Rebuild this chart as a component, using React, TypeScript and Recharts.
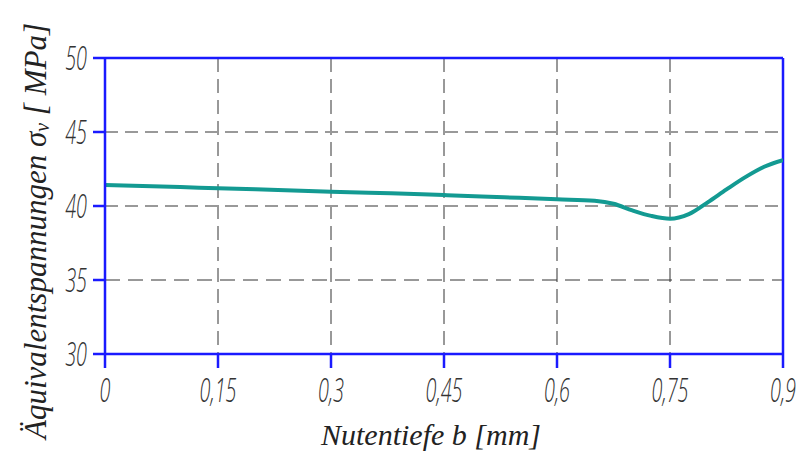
import React from "react";
import { LineChart, Line, XAxis, YAxis, CartesianGrid, ReferenceLine } from "recharts";

const depthMm = [0, 0.05, 0.1, 0.15, 0.2, 0.25, 0.3, 0.35, 0.4, 0.45, 0.5, 0.55, 0.6, 0.65, 0.675, 0.7, 0.725, 0.75, 0.775, 0.8, 0.825, 0.85, 0.875, 0.9];
const stressMPa = [41.42, 41.35, 41.28, 41.2, 41.13, 41.05, 40.97, 40.9, 40.82, 40.74, 40.65, 40.55, 40.45, 40.35, 40.15, 39.7, 39.33, 39.14, 39.45, 40.25, 41.12, 41.95, 42.65, 43.1];
const xTicks = [0, 0.15, 0.3, 0.45, 0.6, 0.75, 0.9];
const yTicks = [30, 35, 40, 45, 50];
const grayGridY = [40, 45];
const darkGridY = [35];

const data = depthMm.map((x, i) => ({ x, y: stressMPa[i] }));

const BLUE = "#1a1aff";
const SERIF = "Liberation Serif, Times New Roman, Tinos, DejaVu Serif, serif";

const fmt = (v: number) => String(v).replace(".", ",");

const NarrowTick = (props: any) => {
  const { x, y, payload, textAnchor, vertical } = props;
  return (
    <g transform={`translate(${x},${y})`}>
      <text
        transform="scale(0.6,1)"
        textAnchor={textAnchor}
        dy={vertical ? "0.36em" : "0.71em"}
        fontFamily="Open Sans, DejaVu Sans, sans-serif"
        fontStyle="italic"
        fontWeight={300}
        fontSize={33}
        fill="#333"
      >
        {fmt(payload.value)}
      </text>
    </g>
  );
};

const XTick = (props: any) => <NarrowTick {...props} vertical={false} />;
const YTick = (props: any) => <NarrowTick {...props} vertical={true} />;

const YTitle = () => (
  <text
    x={35}
    y={231}
    transform="rotate(-90 35 231)"
    textAnchor="middle"
    dominantBaseline="central"
    fontFamily={SERIF}
    fontStyle="italic"
    fontSize={31}
    fill="#222"
  >
    Äquivalentspannungen σ<tspan fontSize={20} dy={7}>v</tspan>
    <tspan dy={-7}> [ MPa]</tspan>
  </text>
);

export default function App() {
  return (
    <div style={{ position: "absolute", left: 0, top: 0, width: 803, height: 453, background: "#fff" }}>
      <LineChart width={803} height={453} data={data} margin={{ top: 58, right: 20, left: 0, bottom: 0 }}>
        <CartesianGrid horizontal={false} vertical={true} stroke="#333" strokeDasharray="14 7" strokeWidth={1} />
        {grayGridY.map((v) => (
          <ReferenceLine key={`g${v}`} y={v} stroke="#999" strokeDasharray="13 7" strokeWidth={2} />
        ))}
        {darkGridY.map((v) => (
          <ReferenceLine key={`d${v}`} y={v} stroke="#333" strokeDasharray="15 8" strokeWidth={1} />
        ))}
        <XAxis
          type="number"
          dataKey="x"
          domain={[0, 0.9]}
          ticks={xTicks}
          interval={0}
          height={99}
          tickSize={14}
          tickMargin={11}
          axisLine={{ stroke: BLUE, strokeWidth: 2.5 }}
          tickLine={{ stroke: BLUE, strokeWidth: 2.5 }}
          tick={<XTick />}
          allowDataOverflow
        />
        <YAxis
          type="number"
          domain={[30, 50]}
          ticks={yTicks}
          interval={0}
          width={105}
          tickSize={12}
          tickMargin={6}
          axisLine={{ stroke: BLUE, strokeWidth: 2.5 }}
          tickLine={{ stroke: BLUE, strokeWidth: 2.5 }}
          tick={<YTick />}
          allowDataOverflow
        />
        <ReferenceLine y={50} stroke={BLUE} strokeWidth={2.5} />
        <ReferenceLine x={0.9} stroke={BLUE} strokeWidth={2.5} />
        <Line
          type="monotone"
          dataKey="y"
          stroke="#139a92"
          strokeWidth={4}
          dot={false}
          isAnimationActive={false}
        />
        <text
          x={431}
          y={445}
          textAnchor="middle"
          fontFamily={SERIF}
          fontStyle="italic"
          fontSize={30}
          fill="#222"
        >
          Nutentiefe b [mm]
        </text>
        <YTitle />
      </LineChart>
    </div>
  );
}
